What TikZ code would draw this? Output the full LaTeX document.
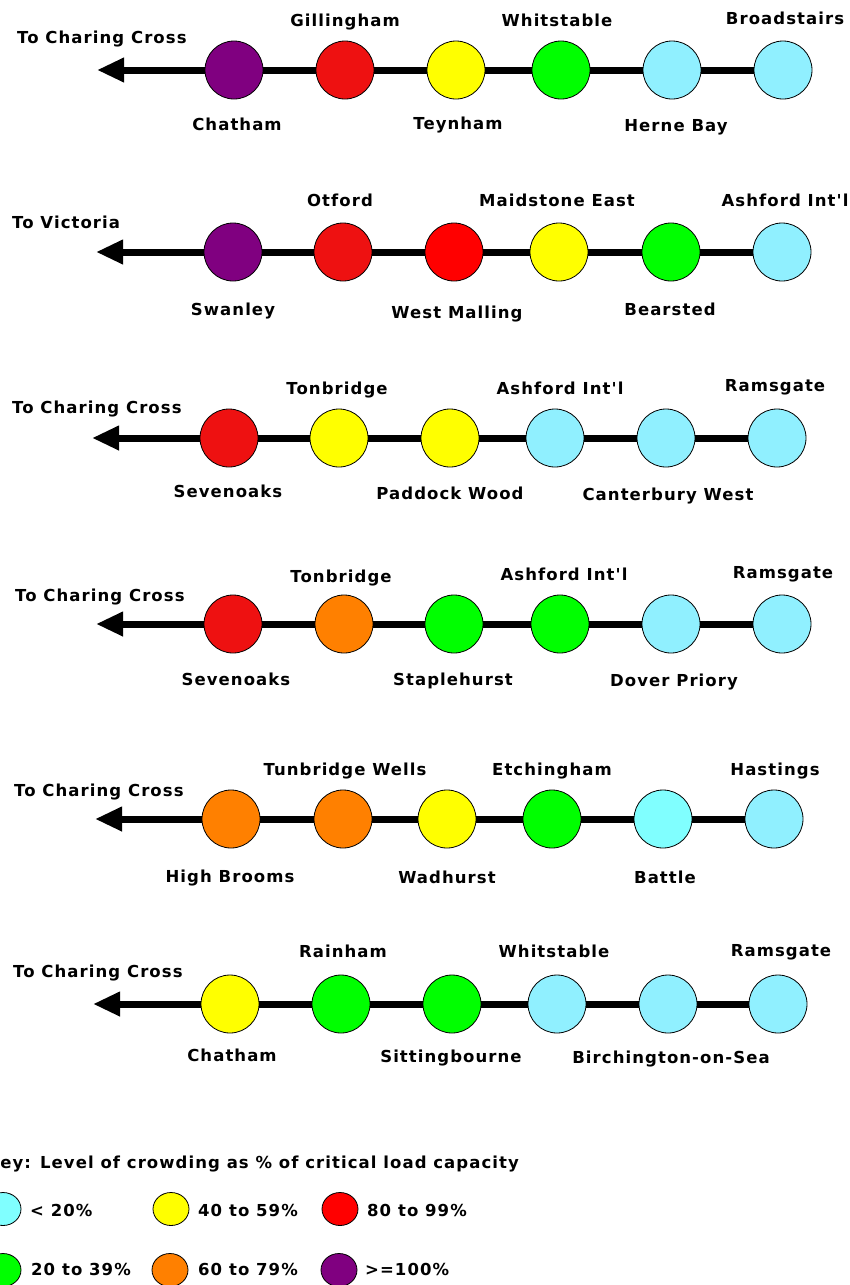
\documentclass[tikz,border=0pt]{standalone}
\usepackage{fontspec}
\newfontfamily\lblfont{DejaVu Sans Bold}[LetterSpace=6.5]
\usetikzlibrary{arrows.meta,shapes.geometric}
\definecolor{cPurple}{HTML}{800080}
\definecolor{cRedA}{HTML}{EE1111}
\definecolor{cRedB}{HTML}{FF0000}
\definecolor{cYellow}{HTML}{FFFF00}
\definecolor{cGreen}{HTML}{00FF00}
\definecolor{cOrange}{HTML}{FF8000}
\definecolor{cCyanA}{HTML}{90F0FF}
\definecolor{cCyanB}{HTML}{80FFFF}
\begin{document}
\begin{tikzpicture}[x=1pt,y=-1pt,
  st/.style={circle, draw=black, line width=0.8pt, minimum size=58pt, inner sep=0pt, fill=#1},
  keyst/.style={ellipse, draw=black, line width=0.8pt, minimum width=36pt, minimum height=33pt, inner sep=0pt, fill=#1},
  lbl/.style={font={\lblfont\fontsize{16.5}{18}\selectfont}, inner sep=0pt, anchor=base},
  lblw/.style={lbl, anchor=base west},
  track/.style={line width=7pt},
  dir/.style={line width=7pt, -{Triangle[length=27pt,width=23pt]}}]
\useasboundingbox (0,0) rectangle (850,1285);

% ---------- Row 1 ----------
\node[st=cPurple] (a1) at (234,70) {};
\node[st=cRedA]   (a2) at (345,70) {};
\node[st=cYellow] (a3) at (456,70) {};
\node[st=cGreen]  (a4) at (561,70) {};
\node[st=cCyanA]  (a5) at (672,70) {};
\node[st=cCyanA]  (a6) at (783,70) {};
\coordinate (at) at (97,70);
\draw[dir] (a1) -- (at);
\draw[track] (a1) -- (a2);
\draw[track] (a2) -- (a3);
\draw[track] (a3) -- (a4);
\draw[track] (a4) -- (a5);
\draw[track] (a5) -- (a6);
\node[lblw] (ato) at (17,43) {To Charing Cross};
\node[lbl] (al2) at (345,26) {Gillingham};
\node[lbl] (al4) at (557,26) {Whitstable};
\node[lbl] (al6) at (785,24) {Broadstairs};
\node[lbl] (al1) at (237,130) {Chatham};
\node[lbl] (al3) at (458,129) {Teynham};
\node[lbl] (al5) at (676,131) {Herne Bay};

% ---------- Row 2 ----------
\node[st=cPurple] (b1) at (233,252) {};
\node[st=cRedA]   (b2) at (343,252) {};
\node[st=cRedB]   (b3) at (454,252) {};
\node[st=cYellow] (b4) at (559,252) {};
\node[st=cGreen]  (b5) at (671,252) {};
\node[st=cCyanA]  (b6) at (782,252) {};
\coordinate (bt) at (96,252);
\draw[dir] (b1) -- (bt);
\draw[track] (b1) -- (b2);
\draw[track] (b2) -- (b3);
\draw[track] (b3) -- (b4);
\draw[track] (b4) -- (b5);
\draw[track] (b5) -- (b6);
\node[lblw] (bto) at (12,228) {To Victoria};
\node[lbl] (bl2) at (340,206) {Otford};
\node[lbl] (bl4) at (557,206) {Maidstone East};
\node[lbl] (bl6) at (785,206) {Ashford Int'l};
\node[lbl] (bl1) at (233,315) {Swanley};
\node[lbl] (bl3) at (457,318) {West Malling};
\node[lbl] (bl5) at (670,315) {Bearsted};

% ---------- Row 3 ----------
\node[st=cRedA]   (c1) at (229,438) {};
\node[st=cYellow] (c2) at (339,438) {};
\node[st=cYellow] (c3) at (450,438) {};
\node[st=cCyanA]  (c4) at (555,438) {};
\node[st=cCyanA]  (c5) at (666,438) {};
\node[st=cCyanA]  (c6) at (777,438) {};
\coordinate (ct) at (92,438);
\draw[dir] (c1) -- (ct);
\draw[track] (c1) -- (c2);
\draw[track] (c2) -- (c3);
\draw[track] (c3) -- (c4);
\draw[track] (c4) -- (c5);
\draw[track] (c5) -- (c6);
\node[lblw] (cto) at (12,413) {To Charing Cross};
\node[lbl] (cl2) at (337,394) {Tonbridge};
\node[lbl] (cl4) at (560,394) {Ashford Int'l};
\node[lbl] (cl6) at (775,391) {Ramsgate};
\node[lbl] (cl1) at (228,497) {Sevenoaks};
\node[lbl] (cl3) at (450,499) {Paddock Wood};
\node[lbl] (cl5) at (668,500) {Canterbury West};

% ---------- Row 4 ----------
\node[st=cRedA]   (d1) at (233,624) {};
\node[st=cOrange] (d2) at (344,624) {};
\node[st=cGreen]  (d3) at (454,624) {};
\node[st=cGreen]  (d4) at (560,624) {};
\node[st=cCyanA]  (d5) at (671,624) {};
\node[st=cCyanA]  (d6) at (782,624) {};
\coordinate (dt) at (96,624);
\draw[dir] (d1) -- (dt);
\draw[track] (d1) -- (d2);
\draw[track] (d2) -- (d3);
\draw[track] (d3) -- (d4);
\draw[track] (d4) -- (d5);
\draw[track] (d5) -- (d6);
\node[lblw] (dto) at (15,601) {To Charing Cross};
\node[lbl] (dl2) at (341,582) {Tonbridge};
\node[lbl] (dl4) at (564,580) {Ashford Int'l};
\node[lbl] (dl6) at (783,578) {Ramsgate};
\node[lbl] (dl1) at (236,685) {Sevenoaks};
\node[lbl] (dl3) at (453,685) {Staplehurst};
\node[lbl] (dl5) at (674,686) {Dover Priory};

% ---------- Row 5 ----------
\node[st=cOrange] (e1) at (231,819) {};
\node[st=cOrange] (e2) at (343,819) {};
\node[st=cYellow] (e3) at (447,819) {};
\node[st=cGreen]  (e4) at (552,819) {};
\node[st=cCyanB]  (e5) at (663,819) {};
\node[st=cCyanA]  (e6) at (774,819) {};
\coordinate (et) at (95,819);
\draw[dir] (e1) -- (et);
\draw[track] (e1) -- (e2);
\draw[track] (e2) -- (e3);
\draw[track] (e3) -- (e4);
\draw[track] (e4) -- (e5);
\draw[track] (e5) -- (e6);
\node[lblw] (eto) at (14,796) {To Charing Cross};
\node[lbl] (el2) at (345,775) {Tunbridge Wells};
\node[lbl] (el4) at (552,775) {Etchingham};
\node[lbl] (el6) at (775,775) {Hastings};
\node[lbl] (el1) at (230,882) {High Brooms};
\node[lbl] (el3) at (447,883) {Wadhurst};
\node[lbl] (el5) at (665,883) {Battle};

% ---------- Row 6 ----------
\node[st=cYellow] (f1) at (230,1004) {};
\node[st=cGreen]  (f2) at (341,1004) {};
\node[st=cGreen]  (f3) at (452,1004) {};
\node[st=cCyanA]  (f4) at (557,1004) {};
\node[st=cCyanA]  (f5) at (668,1004) {};
\node[st=cCyanA]  (f6) at (778,1004) {};
\coordinate (ft) at (93,1004);
\draw[dir] (f1) -- (ft);
\draw[track] (f1) -- (f2);
\draw[track] (f2) -- (f3);
\draw[track] (f3) -- (f4);
\draw[track] (f4) -- (f5);
\draw[track] (f5) -- (f6);
\node[lblw] (fto) at (13,977) {To Charing Cross};
\node[lbl] (fl2) at (343,957) {Rainham};
\node[lbl] (fl4) at (554,957) {Whitstable};
\node[lbl] (fl6) at (781,956) {Ramsgate};
\node[lbl] (fl1) at (232,1061) {Chatham};
\node[lbl] (fl3) at (451,1062) {Sittingbourne};
\node[lbl] (fl5) at (671,1063) {Birchington-on-Sea};

% ---------- Key ----------
\node[lbl, anchor=base east] (ktitle) at (519,1168) {Key: Level of crowding as \% of critical load capacity};
\node[keyst=cCyanB]  (k1) at (3,1209) {};
\node[keyst=cYellow] (k2) at (171,1209) {};
\node[keyst=cRedB]   (k3) at (340,1209) {};
\node[keyst=cGreen]  (k4) at (3,1270) {};
\node[keyst=cOrange] (k5) at (170,1270) {};
\node[keyst=cPurple] (k6) at (339,1270) {};
\node[lblw] (kl1) at (30,1216) {< 20\%};
\node[lblw] (kl2) at (198,1216) {40 to 59\%};
\node[lblw] (kl3) at (367,1216) {80 to 99\%};
\node[lblw] (kl4) at (31,1275) {20 to 39\%};
\node[lblw] (kl5) at (198,1275) {60 to 79\%};
\node[lblw] (kl6) at (365,1275) {>=100\%};
\end{tikzpicture}
\end{document}
